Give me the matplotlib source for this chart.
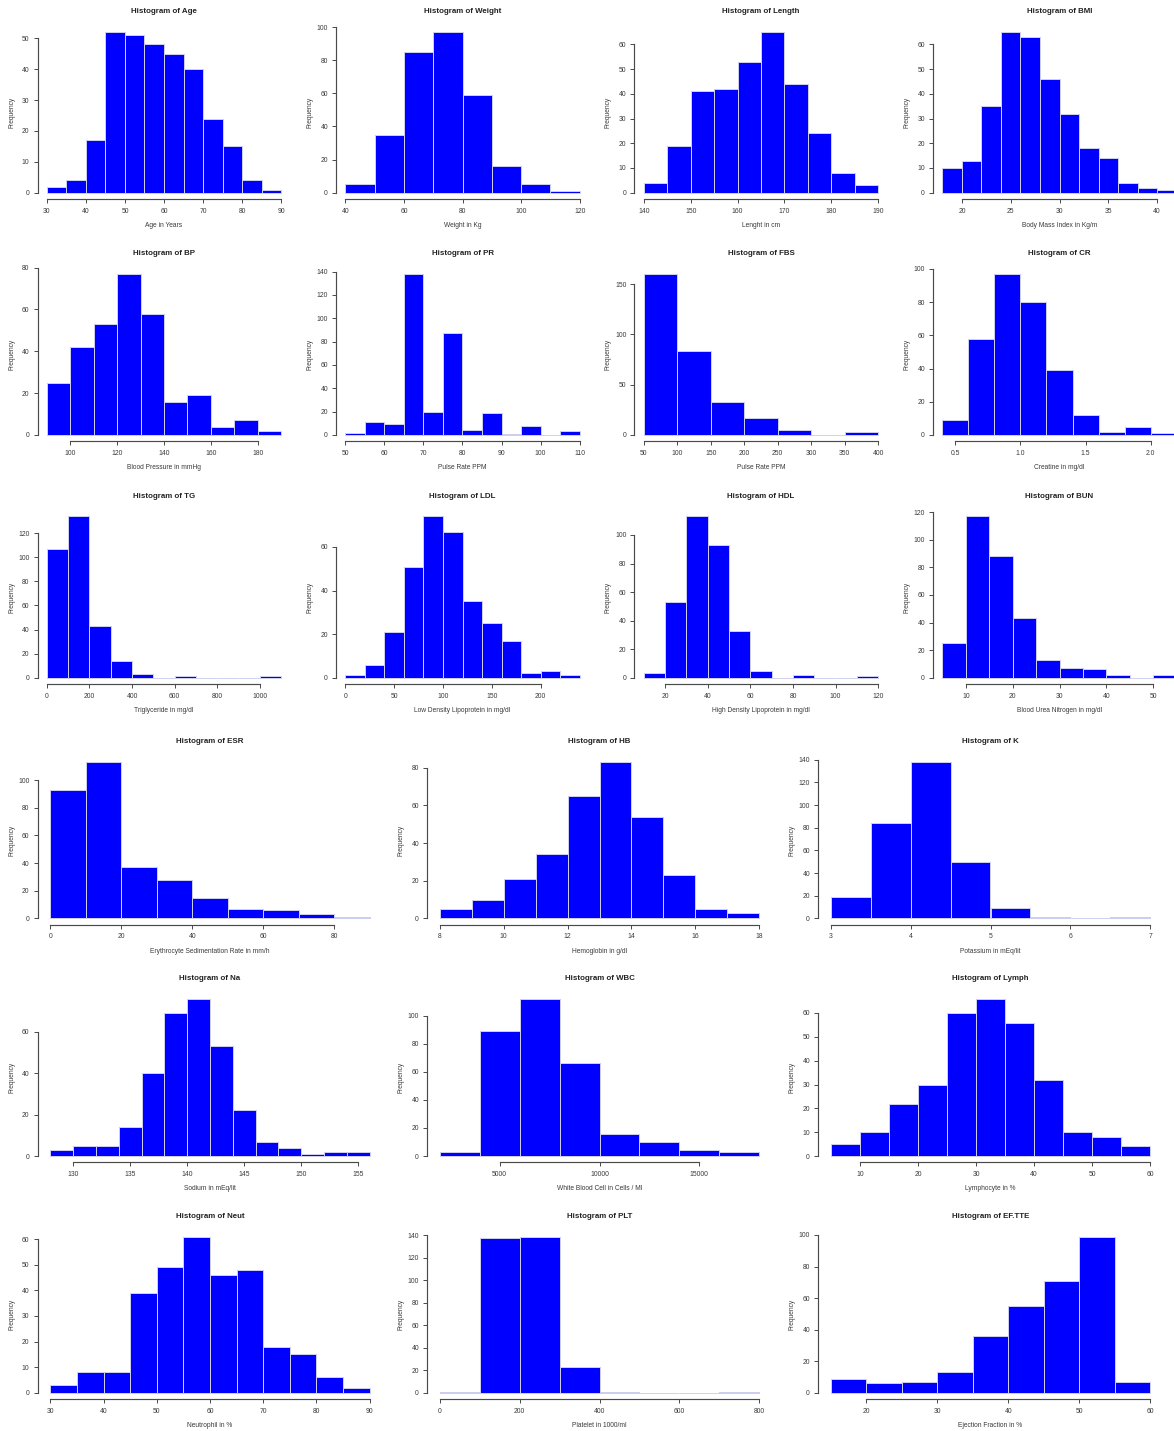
import matplotlib
matplotlib.use('Agg')
import matplotlib.pyplot as plt
import numpy as np

plt.rcParams['font.family'] = ['Liberation Sans', 'DejaVu Sans']

W, H = 1174, 1431

# ---------------- data ----------------
age_edges = [30, 35, 40, 45, 50, 55, 60, 65, 70, 75, 80, 85, 90]
age_counts = [2, 4, 17, 52, 51, 48, 45, 40, 24, 15, 4, 1]
age_xt = [30, 40, 50, 60, 70, 80, 90]
age_yt = [0, 10, 20, 30, 40, 50]

weight_edges = [40, 50, 60, 70, 80, 90, 100, 110, 120]
weight_counts = [5, 35, 85, 97, 59, 16, 5, 1]
weight_xt = [40, 60, 80, 100, 120]
weight_yt = [0, 20, 40, 60, 80, 100]

length_edges = [140, 145, 150, 155, 160, 165, 170, 175, 180, 185, 190]
length_counts = [4, 19, 41, 42, 53, 65, 44, 24, 8, 3]
length_xt = [140, 150, 160, 170, 180, 190]
length_yt = [0, 10, 20, 30, 40, 50, 60]

bmi_edges = [18, 20, 22, 24, 26, 28, 30, 32, 34, 36, 38, 40, 42]
bmi_counts = [10, 13, 35, 65, 63, 46, 32, 18, 14, 4, 2, 1]
bmi_xt = [20, 25, 30, 35, 40]
bmi_yt = [0, 10, 20, 30, 40, 50, 60]

bp_edges = [90, 100, 110, 120, 130, 140, 150, 160, 170, 180, 190]
bp_counts = [25, 42, 53, 77, 58, 16, 19, 4, 7, 2]
bp_xt = [100, 120, 140, 160, 180]
bp_yt = [0, 20, 40, 60, 80]

pr_edges = [50, 55, 60, 65, 70, 75, 80, 85, 90, 95, 100, 105, 110]
pr_counts = [2, 11, 9, 138, 20, 87, 4, 19, 1, 8, 0, 3]
pr_xt = [50, 60, 70, 80, 90, 100, 110]
pr_yt = [0, 20, 40, 60, 80, 100, 120, 140]

fbs_edges = [50, 100, 150, 200, 250, 300, 350, 400]
fbs_counts = [160, 83, 33, 17, 5, 0, 3]
fbs_xt = [50, 100, 150, 200, 250, 300, 350, 400]
fbs_yt = [0, 50, 100, 150]

cr_edges = [0.4, 0.6, 0.8, 1.0, 1.2, 1.4, 1.6, 1.8, 2.0, 2.2]
cr_counts = [9, 58, 97, 80, 39, 12, 2, 5, 1]
cr_xt = [0.5, 1.0, 1.5, 2.0]
cr_xtl = ['0.5', '1.0', '1.5', '2.0']
cr_yt = [0, 20, 40, 60, 80, 100]

tg_edges = [0, 100, 200, 300, 400, 500, 600, 700, 800, 900, 1000, 1100]
tg_counts = [107, 134, 43, 14, 3, 0, 1, 0, 0, 0, 1]
tg_xt = [0, 200, 400, 600, 800, 1000]
tg_yt = [0, 20, 40, 60, 80, 100, 120]

ldl_edges = [0, 20, 40, 60, 80, 100, 120, 140, 160, 180, 200, 220, 240]
ldl_counts = [1, 6, 21, 51, 74, 67, 35, 25, 17, 2, 3, 1]
ldl_xt = [0, 50, 100, 150, 200]
ldl_yt = [0, 20, 40, 60]

hdl_edges = [10, 20, 30, 40, 50, 60, 70, 80, 90, 100, 110, 120]
hdl_counts = [3, 53, 113, 93, 33, 5, 0, 2, 0, 0, 1]
hdl_xt = [20, 40, 60, 80, 100, 120]
hdl_yt = [0, 20, 40, 60, 80, 100]

bun_edges = [5, 10, 15, 20, 25, 30, 35, 40, 45, 50, 55]
bun_counts = [25, 117, 88, 43, 13, 7, 6, 2, 0, 2]
bun_xt = [10, 20, 30, 40, 50]
bun_yt = [0, 20, 40, 60, 80, 100, 120]

esr_edges = [0, 10, 20, 30, 40, 50, 60, 70, 80, 90]
esr_counts = [93, 113, 37, 28, 15, 7, 6, 3, 1]
esr_xt = [0, 20, 40, 60, 80]
esr_yt = [0, 20, 40, 60, 80, 100]

hb_edges = [8, 9, 10, 11, 12, 13, 14, 15, 16, 17, 18]
hb_counts = [5, 10, 21, 34, 65, 83, 54, 23, 5, 3]
hb_xt = [8, 10, 12, 14, 16, 18]
hb_yt = [0, 20, 40, 60, 80]

k_edges = [3.0, 3.5, 4.0, 4.5, 5.0, 5.5, 6.0, 6.5, 7.0]
k_counts = [19, 84, 138, 50, 9, 1, 0, 1]
k_xt = [3, 4, 5, 6, 7]
k_yt = [0, 20, 40, 60, 80, 100, 120, 140]

na_edges = [128, 130, 132, 134, 136, 138, 140, 142, 144, 146, 148, 150, 152, 154, 156]
na_counts = [3, 5, 5, 14, 40, 69, 76, 53, 22, 7, 4, 1, 2, 2]
na_xt = [130, 135, 140, 145, 150, 155]
na_yt = [0, 20, 40, 60]

wbc_edges = [2000, 4000, 6000, 8000, 10000, 12000, 14000, 16000, 18000]
wbc_counts = [3, 89, 112, 66, 16, 10, 4, 3]
wbc_xt = [5000, 10000, 15000]
wbc_yt = [0, 20, 40, 60, 80, 100]

lymph_edges = [5, 10, 15, 20, 25, 30, 35, 40, 45, 50, 55, 60]
lymph_counts = [5, 10, 22, 30, 60, 66, 56, 32, 10, 8, 4]
lymph_xt = [10, 20, 30, 40, 50, 60]
lymph_yt = [0, 10, 20, 30, 40, 50, 60]

neut_edges = [30, 35, 40, 45, 50, 55, 60, 65, 70, 75, 80, 85, 90]
neut_counts = [3, 8, 8, 39, 49, 61, 46, 48, 18, 15, 6, 2]
neut_xt = [30, 40, 50, 60, 70, 80, 90]
neut_yt = [0, 10, 20, 30, 40, 50, 60]

plt_edges = [0, 100, 200, 300, 400, 500, 600, 700, 800]
plt_counts = [1, 138, 139, 23, 1, 0, 0, 1]
plt_xt = [0, 200, 400, 600, 800]
plt_yt = [0, 20, 40, 60, 80, 100, 120, 140]

ef_edges = [15, 20, 25, 30, 35, 40, 45, 50, 55, 60]
ef_counts = [9, 6, 7, 13, 36, 55, 71, 99, 7]
ef_xt = [20, 30, 40, 50, 60]
ef_yt = [0, 20, 40, 60, 80, 100]

panels = [
    ("Age", age_edges, age_counts, age_xt, None, age_yt, "Age in Years"),
    ("Weight", weight_edges, weight_counts, weight_xt, None, weight_yt, "Weight in Kg"),
    ("Length", length_edges, length_counts, length_xt, None, length_yt, "Lenght in cm"),
    ("BMI", bmi_edges, bmi_counts, bmi_xt, None, bmi_yt, "Body Mass Index in Kg/m"),
    ("BP", bp_edges, bp_counts, bp_xt, None, bp_yt, "Blood Pressure in mmHg"),
    ("PR", pr_edges, pr_counts, pr_xt, None, pr_yt, "Pulse Rate PPM"),
    ("FBS", fbs_edges, fbs_counts, fbs_xt, None, fbs_yt, "Pulse Rate PPM"),
    ("CR", cr_edges, cr_counts, cr_xt, cr_xtl, cr_yt, "Creatine in mg/dl"),
    ("TG", tg_edges, tg_counts, tg_xt, None, tg_yt, "Triglyceride in mg/dl"),
    ("LDL", ldl_edges, ldl_counts, ldl_xt, None, ldl_yt, "Low Density Lipoprotein in mg/dl"),
    ("HDL", hdl_edges, hdl_counts, hdl_xt, None, hdl_yt, "High Density Lipoprotein in mg/dl"),
    ("BUN", bun_edges, bun_counts, bun_xt, None, bun_yt, "Blood Urea Nitrogen in mg/dl"),
    ("ESR", esr_edges, esr_counts, esr_xt, None, esr_yt, "Erythrocyte Sedimentation Rate in mm/h"),
    ("HB", hb_edges, hb_counts, hb_xt, None, hb_yt, "Hemoglobin in g/dl"),
    ("K", k_edges, k_counts, k_xt, None, k_yt, "Potassium in mEq/lit"),
    ("Na", na_edges, na_counts, na_xt, None, na_yt, "Sodium in mEq/lit"),
    ("WBC", wbc_edges, wbc_counts, wbc_xt, None, wbc_yt, "White Blood Cell in Cells / Ml"),
    ("Lymph", lymph_edges, lymph_counts, lymph_xt, None, lymph_yt, "Lymphocyte in %"),
    ("Neut", neut_edges, neut_counts, neut_xt, None, neut_yt, "Neutrophil in %"),
    ("PLT", plt_edges, plt_counts, plt_xt, None, plt_yt, "Platelet in 1000/ml"),
    ("EF.TTE", ef_edges, ef_counts, ef_xt, None, ef_yt, "Ejection Fraction in %"),
]

# ---------------- layout (pixels) ----------------
rows = [(25.7, 199.1), (267.5, 441.4), (510.0, 684.1),
        (755.8, 924.6), (992.4, 1162.3), (1230.3, 1399.0)]
lefts4 = [37.5, 336.0, 634.5, 933.0]
width4 = 253.0
lefts3 = [37.5, 427.0, 818.0]
width3 = 345.0

PT = 72.0 / 100.0  # px -> points

fig = plt.figure(figsize=(W / 100, H / 100), dpi=100)
fig.patch.set_facecolor('white')

AX_COL = '#4a4a4a'
TXT_COL = '#3a3a3a'

for i, (name, edges, counts, xt, xtl, yt, xlabel) in enumerate(panels):
    if i < 12:
        r, c = divmod(i, 4)
        l, w = lefts4[c], width4
    else:
        r, c = divmod(i - 12, 3)
        r += 3
        l, w = lefts3[c], width3
    top, bot = rows[r]
    h = bot - top
    ax = fig.add_axes([l / W, 1 - bot / H, w / W, h / H])
    ax.patch.set_alpha(0)

    edges = np.asarray(edges, dtype=float)
    lo, hi = edges[0], edges[-1]
    rng = hi - lo
    ax.set_xlim(lo - 0.04 * rng, hi + 0.04 * rng)
    m = max(counts)
    ax.set_ylim(-0.04 * m, 1.04 * m)

    ax.bar(edges[:-1], counts, width=np.diff(edges), align='edge',
           color='#0000FF', edgecolor='#D0D0F0', linewidth=0.7)

    for s in ('top', 'right'):
        ax.spines[s].set_visible(False)
    for s in ('left', 'bottom'):
        ax.spines[s].set_color(AX_COL)
        ax.spines[s].set_linewidth(0.85)
    ax.spines['bottom'].set_bounds(xt[0], xt[-1])
    ax.spines['left'].set_bounds(yt[0], yt[-1])

    ax.set_xticks(xt)
    if xtl is not None:
        ax.set_xticklabels(xtl)
    else:
        ax.set_xticklabels([str(v) for v in xt])
    ax.set_yticks(yt)
    ax.set_yticklabels([str(v) for v in yt])
    ax.tick_params(axis='both', direction='out', length=2.6, width=0.7,
                   color=AX_COL, labelcolor=TXT_COL, labelsize=4.9)
    ax.tick_params(axis='x', pad=3.8)
    ax.tick_params(axis='y', pad=3.2)

    ax.annotate("Histogram of " + name, xy=(0.5, 1), xycoords='axes fraction',
                xytext=(0, 14 * PT), textcoords='offset points',
                ha='center', va='center', fontsize=5.7, fontweight='bold',
                color='#222222')
    ax.annotate(xlabel, xy=(0.5, 0), xycoords='axes fraction',
                xytext=(0, -26.6 * PT), textcoords='offset points',
                ha='center', va='center', fontsize=4.8, color=TXT_COL)
    ax.annotate("Frequency", xy=(0, 0.5), xycoords='axes fraction',
                xytext=(-26 * PT, 0), textcoords='offset points',
                ha='center', va='center', fontsize=4.8, rotation=90,
                color=TXT_COL)

fig.savefig('out.png', dpi=100, facecolor='white')
